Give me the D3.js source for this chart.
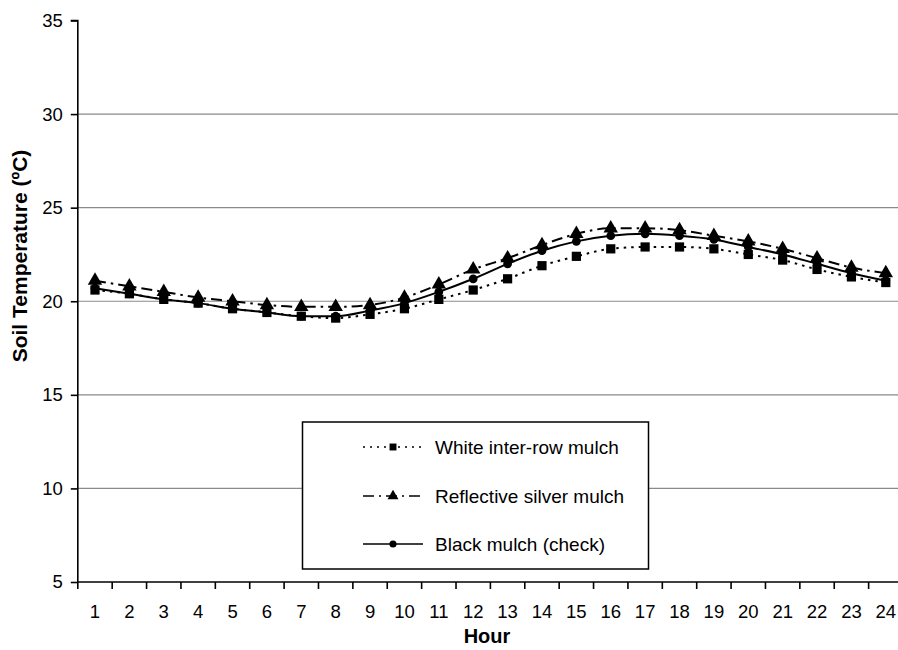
<!DOCTYPE html>
<html><head><meta charset="utf-8">
<script src="https://cdn.jsdelivr.net/npm/d3@7"></script>
<style>body{margin:0;background:#fff}svg{display:block;font-family:"Liberation Sans",Arial,sans-serif}</style>
</head><body><svg id="c" width="898" height="650"></svg>
<script>
const hours = d3.range(1, 25).map(String);
const whiteMulch = [20.6,20.4,20.1,19.9,19.6,19.4,19.2,19.1,19.3,19.6,20.1,20.6,21.2,21.9,22.4,22.8,22.9,22.9,22.8,22.5,22.2,21.7,21.3,21.0];
const silverMulch = [21.1,20.8,20.5,20.2,20.0,19.8,19.7,19.7,19.8,20.2,20.9,21.7,22.3,23.0,23.6,23.9,23.9,23.8,23.5,23.2,22.8,22.3,21.8,21.5];
const blackMulch = [20.7,20.4,20.1,19.9,19.6,19.4,19.2,19.2,19.5,19.9,20.5,21.2,22.0,22.7,23.2,23.5,23.6,23.5,23.3,22.9,22.5,22.0,21.5,21.1];
const yTicks = [5,10,15,20,25,30,35];
const seriesNames = ["White inter-row mulch","Reflective silver mulch","Black mulch (check)"];

const svg = d3.select("#c");
const L = 77.8, R = 903, T = 20.5, B = 582;
const x = d3.scaleBand().domain(hours).range([L, R]);
const y = d3.scaleLinear().domain([5, 35]).range([B, T]);
const FONT = "Liberation Sans, Arial, sans-serif";

// gridlines
svg.append("g").selectAll("line").data(yTicks.filter(v => v > 5 && v < 35)).join("line")
  .attr("x1", L).attr("x2", 898).attr("y1", d => y(d)).attr("y2", d => y(d))
  .attr("stroke", "#8a8a8a").attr("stroke-width", 1.2);

// y axis
const ya = svg.append("g").attr("transform", `translate(${L},0)`)
  .call(d3.axisLeft(y).tickValues(yTicks).tickSize(7).tickPadding(8));
ya.select(".domain").attr("stroke", "#000").attr("stroke-width", 1.6).attr("d", `M-7,${T}H0V${B}`);
ya.selectAll(".tick line").attr("stroke", "#000").attr("stroke-width", 1.6);
ya.selectAll(".tick text").attr("font-size", 18.5).attr("fill", "#000").attr("font-family", FONT);

// x axis
const xa = svg.append("g").attr("transform", `translate(0,${B})`)
  .call(d3.axisBottom(x).tickSize(0).tickPadding(23));
xa.select(".domain").attr("stroke", "#000").attr("stroke-width", 1.6).attr("d", `M${L},0H898`);
xa.selectAll(".tick text").attr("font-size", 18.5).attr("fill", "#000").attr("font-family", FONT);
svg.append("g").selectAll("line").data(hours).join("line")
  .attr("x1", d => x(d)).attr("x2", d => x(d)).attr("y1", B).attr("y2", B + 7)
  .attr("stroke", "#000").attr("stroke-width", 1.6);

const cx = d => x(d) + x.bandwidth() / 2;
const line = d3.line().x((d, i) => cx(hours[i])).y(d => y(d)).curve(d3.curveMonotoneX);

const styles = [
  {data: whiteMulch, dash: "2.5,5", ldash: "2,5", sym: d3.symbolSquare, size: 85, lsize: 48},
  {data: blackMulch, dash: null, ldash: null, sym: d3.symbolCircle, size: 60, lsize: 40},
  {data: silverMulch, dash: "11,5,2.5,5", ldash: "11,5,2,5", sym: d3.symbolTriangle, size: 90, lsize: 52}
];
styles.forEach(s => {
  svg.append("path").datum(s.data).attr("d", line).attr("fill", "none")
    .attr("stroke", "#000").attr("stroke-width", 2).attr("stroke-dasharray", s.dash);
});
styles.forEach(s => {
  svg.append("g").selectAll("path").data(s.data).join("path")
    .attr("transform", (d, i) => `translate(${cx(hours[i])},${y(d)})`)
    .attr("d", d3.symbol().type(s.sym).size(s.size)).attr("fill", "#000");
});

// legend
const lg = svg.append("g");
lg.append("rect").attr("x", 302.5).attr("y", 422).attr("width", 346).attr("height", 147)
  .attr("fill", "#fff").attr("stroke", "#000").attr("stroke-width", 1.5);
const legOrder = [styles[0], styles[2], styles[1]];
const rowsY = [447, 496, 544];
legOrder.forEach((s, i) => {
  const yy = rowsY[i];
  lg.append("line").attr("x1", 363).attr("x2", 423).attr("y1", yy).attr("y2", yy)
    .attr("stroke", "#000").attr("stroke-width", 1.6).attr("stroke-dasharray", s.ldash);
  lg.append("path").attr("transform", `translate(393,${yy})`)
    .attr("d", d3.symbol().type(s.sym).size(s.lsize)).attr("fill", "#000");
  lg.append("text").attr("x", 435).attr("y", yy + 6.7).attr("font-size", 19).text(seriesNames[i]);
});

// titles
svg.append("text").attr("transform", "translate(27,256) rotate(-90)").attr("text-anchor", "middle")
  .attr("font-size", 21).attr("font-weight", "bold").text("Soil Temperature (ºC)");
svg.append("text").attr("x", 487).attr("y", 643).attr("text-anchor", "middle")
  .attr("font-size", 20).attr("font-weight", "bold").text("Hour");
</script></body></html>
